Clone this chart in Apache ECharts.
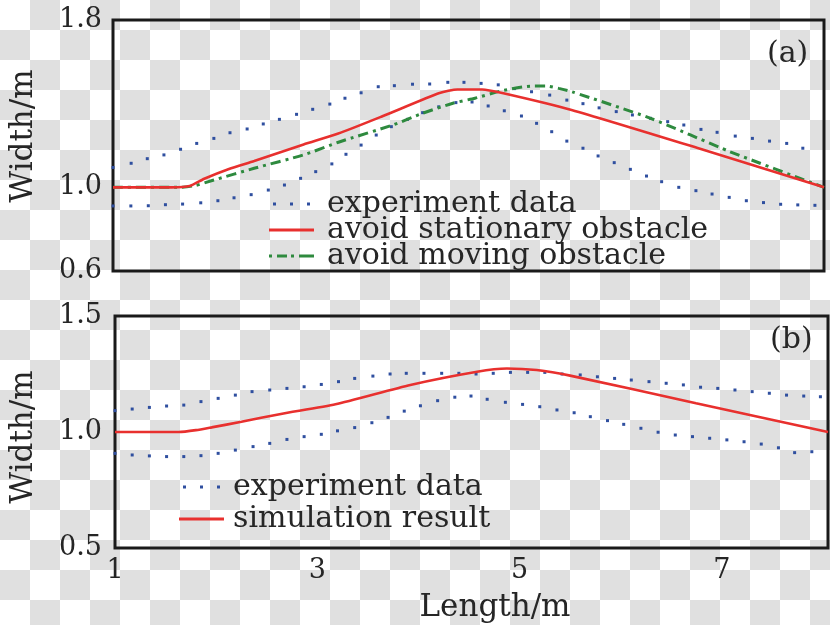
<!DOCTYPE html>
<html><head><meta charset="utf-8">
<script src="https://cdn.jsdelivr.net/npm/echarts@6/dist/echarts.min.js"></script>
<style>
html,body{margin:0;padding:0;}
body{width:830px;height:625px;background:repeating-conic-gradient(#e0e0e0 0 25%, #ffffff 0 50%) 0 0/60px 60px;}
#chart{width:830px;height:625px;}
</style></head><body><div id="chart"></div>
<script>
// ---- tick labels ----
const xTicks = [1, 3, 5, 7];
const yTicksA = [0.6, 1.0, 1.8];
const yTicksB = [0.5, 1.0, 1.5];

// ---- panel (a) ----
const expUpperA = [[1.0,1.095],[1.18,1.115],[1.34,1.137],[1.505,1.155],[1.67,1.182],[1.83,1.21],[2.0,1.234],[2.16,1.261],[2.33,1.279],[2.49,1.303],[2.65,1.325],[2.82,1.349],[2.98,1.373],[3.15,1.398],[3.30,1.426],[3.46,1.452],[3.63,1.481],[3.79,1.486],[3.97,1.493],[4.14,1.494],[4.32,1.502],[4.48,1.502],[4.65,1.497],[4.82,1.49],[4.98,1.472],[5.15,1.457],[5.33,1.441],[5.50,1.417],[5.66,1.40],[5.82,1.38],[5.99,1.362],[6.15,1.346],[6.33,1.33],[6.50,1.314],[6.66,1.298],[6.83,1.277],[6.99,1.263],[7.17,1.245],[7.34,1.234],[7.51,1.221],[7.68,1.21],[7.84,1.187]];
const expLowerA = [[1.0,0.911],[1.177,0.911],[1.35,0.912],[1.52,0.917],[1.69,0.92],[1.87,0.926],[2.04,0.936],[2.20,0.95],[2.37,0.965],[2.54,0.987],[2.70,1.011],[2.86,1.043],[3.01,1.075],[3.17,1.112],[3.31,1.158],[3.46,1.202],[3.61,1.25],[3.76,1.29],[3.92,1.325],[4.07,1.357],[4.23,1.385],[4.40,1.405],[4.56,1.408],[4.72,1.389],[4.88,1.366],[5.05,1.341],[5.20,1.306],[5.35,1.266],[5.50,1.221],[5.66,1.187],[5.81,1.15],[5.97,1.118],[6.13,1.086],[6.29,1.054],[6.44,1.027],[6.61,1.0],[6.78,0.984],[6.94,0.968],[7.11,0.952],[7.28,0.936],[7.45,0.927],[7.62,0.919],[7.79,0.916],[7.96,0.914]];
const stationaryA = [[1.0,1.0],[1.58,1.0],[1.76,1.006],[1.905,1.041],[2.15,1.088],[2.40,1.126],[2.89,1.205],[3.234,1.257],[3.677,1.341],[4.238,1.451],[4.415,1.468],[4.66,1.468],[4.86,1.451],[5.547,1.37],[6.797,1.188],[8.05,1.0]];
const movingA = [[1.0,1.0],[1.66,1.0],[1.81,1.008],[2.0,1.035],[2.40,1.091],[2.89,1.155],[3.25,1.218],[3.775,1.298],[4.07,1.354],[4.37,1.402],[4.59,1.426],[4.86,1.462],[5.15,1.484],[5.30,1.484],[5.42,1.473],[5.55,1.457],[6.33,1.33],[7.12,1.17],[8.05,1.0]];

// ---- panel (b) ----
const expUpperB = [[1.0,1.092],[1.17,1.099],[1.34,1.106],[1.51,1.112],[1.68,1.116],[1.85,1.131],[2.02,1.145],[2.19,1.159],[2.355,1.174],[2.53,1.181],[2.70,1.188],[2.87,1.195],[3.04,1.205],[3.21,1.217],[3.37,1.231],[3.55,1.241],[3.72,1.25],[3.88,1.253],[4.055,1.253],[4.23,1.253],[4.40,1.253],[4.57,1.25],[4.74,1.253],[4.91,1.257],[5.08,1.257],[5.25,1.257],[5.42,1.25],[5.60,1.246],[5.77,1.238],[5.94,1.231],[6.105,1.224],[6.28,1.217],[6.45,1.21],[6.62,1.203],[6.79,1.193],[6.96,1.188],[7.13,1.181],[7.30,1.174],[7.47,1.167],[7.64,1.159],[7.81,1.155],[7.975,1.152]];
const expLowerB = [[1.0,0.908],[1.17,0.901],[1.34,0.897],[1.51,0.894],[1.68,0.894],[1.85,0.898],[2.02,0.908],[2.19,0.922],[2.365,0.937],[2.53,0.951],[2.70,0.968],[2.87,0.98],[3.04,0.99],[3.20,1.005],[3.37,1.019],[3.54,1.04],[3.70,1.063],[3.86,1.09],[4.02,1.113],[4.19,1.135],[4.36,1.15],[4.52,1.155],[4.68,1.141],[4.86,1.128],[5.03,1.119],[5.20,1.109],[5.37,1.095],[5.54,1.083],[5.70,1.066],[5.87,1.049],[6.03,1.033],[6.20,1.016],[6.37,0.999],[6.54,0.987],[6.71,0.98],[6.88,0.973],[7.05,0.966],[7.22,0.958],[7.39,0.948],[7.56,0.932],[7.72,0.911],[7.89,0.915]];
const simulationB = [[1.0,1.0],[1.63,1.0],[1.8,1.008],[1.955,1.02],[2.25,1.044],[2.64,1.078],[3.18,1.12],[3.92,1.203],[4.58,1.26],[4.875,1.274],[5.17,1.267],[5.50,1.243],[6.745,1.124],[8.05,1.0]];

const SERIF = 'DejaVu Serif';
const TXT = '#262626';
const BLUE = '#2f4f9f', RED = '#e8302e', GREEN = '#2e8a3e';
const DOTS_ICON = 'path://M0,0h3v3h-3zM17,0h3v3h-3zM34,0h3v3h-3z';
const LINE_ICON = 'path://M0,0h45v3h-45z';
const DASHDOT_ICON = 'path://M0,0h3v3h-3zM8,0h10v3h-10zM22,0h3v3h-3zM30,0h15v3h-15z';

function tickFmt(list, digits) {
  return v => list.some(t => Math.abs(t - v) < 1e-6) ? v.toFixed(digits) : '';
}
function dotSeries(name, data, idx) {
  return { name, type: 'line', data, xAxisIndex: idx, yAxisIndex: idx,
    symbol: 'rect', symbolSize: 3, showAllSymbol: true,
    itemStyle: { color: BLUE }, lineStyle: { width: 0, opacity: 0 }, z: 2 };
}
const chart = echarts.init(document.getElementById('chart'));
const axisCommon = {
  type: 'value', min: 1, max: 8.05, interval: 2,
  axisLine: { show: false }, axisTick: { show: false }, splitLine: { show: false }
};
chart.setOption({
  animation: false,
  grid: [
    { left: 108, top: 20, width: 716, height: 251, show: true, borderColor: '#1a1a1a', borderWidth: 3, backgroundColor: 'transparent' },
    { left: 113, top: 316, width: 715, height: 232, show: true, borderColor: '#1a1a1a', borderWidth: 3, backgroundColor: 'transparent' }
  ],
  xAxis: [
    Object.assign({}, axisCommon, { gridIndex: 0, axisLabel: { show: false } }),
    Object.assign({}, axisCommon, { gridIndex: 1,
      axisLabel: { show: true, showMaxLabel: false, formatter: v => xTicks.includes(Math.round(v*1000)/1000) ? String(v) : '', margin: 9,
        fontFamily: SERIF, fontSize: 27, color: TXT },
      name: 'Length/m', nameLocation: 'middle', nameGap: 44,
      nameTextStyle: { fontFamily: SERIF, fontSize: 31, color: TXT, padding: [0, 0, 0, 47] } })
  ],
  yAxis: [
    { type: 'value', gridIndex: 0, min: 0.6, max: 1.8, interval: 0.2,
      axisLine: { show: false }, axisTick: { show: false }, splitLine: { show: false },
      axisLabel: { formatter: tickFmt(yTicksA, 1), margin: 11, fontFamily: SERIF, fontSize: 27, color: TXT },
      name: 'Width/m', nameLocation: 'middle', nameRotate: 90, nameGap: 74,
      nameTextStyle: { fontFamily: SERIF, fontSize: 31, color: TXT, padding: [0, 0, 0, 19] } },
    { type: 'value', gridIndex: 1, min: 0.5, max: 1.5, interval: 0.5,
      axisLine: { show: false }, axisTick: { show: false }, splitLine: { show: false },
      axisLabel: { formatter: tickFmt(yTicksB, 1), margin: 13, fontFamily: SERIF, fontSize: 27, color: TXT },
      name: 'Width/m', nameLocation: 'middle', nameRotate: 90, nameGap: 76,
      nameTextStyle: { fontFamily: SERIF, fontSize: 31, color: TXT, padding: [0, 10, 0, 0] } }
  ],
  legend: [
    { orient: 'vertical', left: 269, top: 189, padding: 0, itemGap: -4, itemWidth: 61, itemHeight: 3,
      selectedMode: false,
      textStyle: { fontFamily: SERIF, fontSize: 30, color: TXT, lineHeight: 26 },
      data: [ { name: 'experiment data', icon: DOTS_ICON },
              { name: 'avoid stationary obstacle', icon: LINE_ICON },
              { name: 'avoid moving obstacle', icon: DASHDOT_ICON } ] },
    { orient: 'vertical', left: 179, top: 471, padding: 0, itemGap: 0, itemWidth: 53, itemHeight: 3,
      selectedMode: false,
      textStyle: { fontFamily: SERIF, fontSize: 30, color: TXT, lineHeight: 32 },
      data: [ { name: 'experiment data', icon: DOTS_ICON },
              { name: 'simulation result', icon: LINE_ICON } ] }
  ],
  graphic: [
    { type: 'text', left: 767, top: 39, style: { text: '(a)', font: '30px "DejaVu Serif"', fill: TXT } },
    { type: 'text', left: 770, top: 325, style: { text: '(b)', font: '30px "DejaVu Serif"', fill: TXT } }
  ],
  series: [
    dotSeries('experiment data', expUpperA, 0),
    dotSeries('experiment data', expLowerA, 0),
    { name: 'avoid moving obstacle', type: 'line', data: movingA, xAxisIndex: 0, yAxisIndex: 0,
      symbol: 'none', smooth: 0.2, itemStyle: { color: GREEN },
      lineStyle: { color: GREEN, width: 3, type: [10, 5, 3, 5] }, z: 3 },
    { name: 'avoid stationary obstacle', type: 'line', data: stationaryA, xAxisIndex: 0, yAxisIndex: 0,
      symbol: 'none', smooth: 0.2, itemStyle: { color: RED },
      lineStyle: { color: RED, width: 2.6 }, z: 4 },
    dotSeries('experiment data', expUpperB, 1),
    dotSeries('experiment data', expLowerB, 1),
    { name: 'simulation result', type: 'line', data: simulationB, xAxisIndex: 1, yAxisIndex: 1,
      symbol: 'none', smooth: 0.2, itemStyle: { color: RED },
      lineStyle: { color: RED, width: 2.6 }, z: 4 }
  ]
});
</script></body></html>
